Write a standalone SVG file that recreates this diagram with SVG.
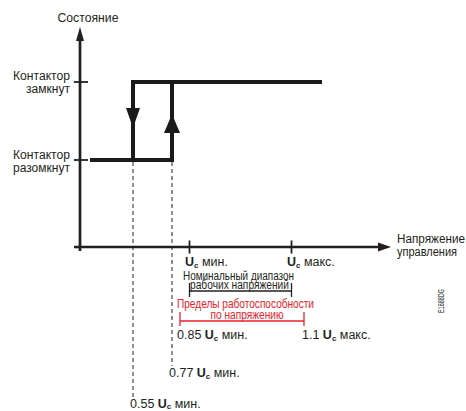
<svg xmlns="http://www.w3.org/2000/svg" width="466" height="411" viewBox="0 0 466 411">
<style>
text{font-family:"Liberation Sans",Arial,sans-serif;fill:#231f20}
.lab{font-size:12px}
.val{font-size:12.5px}
.b{font-weight:bold}
.red{fill:#e8202a}
.ax{stroke:#231f20;stroke-width:2.7;fill:none}
.tick{stroke:#231f20;stroke-width:1.8}
.step{stroke:#1a1a1a;stroke-width:4;fill:none;stroke-linejoin:miter}
.dash{stroke:#231f20;stroke-width:1;stroke-dasharray:4 3;fill:none}
.brk{stroke:#231f20;stroke-width:1.3;fill:none}
.rbrk{stroke:#e8202a;stroke-width:1.3;fill:none}
</style>
<rect width="466" height="411" fill="#fff"/>
<g id="axes">
<line class="ax" x1="80" y1="251" x2="80" y2="38"/>
<polygon points="80,27 76,41 84,41" fill="#231f20"/>
<line class="ax" x1="74" y1="247" x2="381" y2="247"/>
<polygon points="391,247 378,242.5 378,251.5" fill="#231f20"/>
<line class="tick" x1="74" y1="82" x2="88" y2="82"/>
<line class="tick" x1="74" y1="160" x2="88" y2="160"/>
<line class="tick" x1="189.5" y1="240.5" x2="189.5" y2="253.5"/>
<line class="tick" x1="291.5" y1="240.5" x2="291.5" y2="253.5"/>
</g>
<g id="connectors">
<line class="dash" x1="133" y1="162" x2="133" y2="397"/>
<line class="dash" x1="172" y1="162" x2="172" y2="366"/>
<polyline class="step" points="90,160 172,160 172,82"/>
<polyline class="step" points="133,160 133,82 322,82"/>
<polygon points="126,108 140,108 133,128" fill="#1a1a1a"/>
<polygon points="164,133 180,133 172,114" fill="#1a1a1a"/>
</g>
<g id="labels-y">
<text class="lab" x="88" y="22" text-anchor="middle" textLength="61" lengthAdjust="spacingAndGlyphs">Состояние</text>
<text class="lab" x="70" y="80" text-anchor="end" textLength="57" lengthAdjust="spacingAndGlyphs">Контактор</text>
<text class="lab" x="70" y="93" text-anchor="end" textLength="44" lengthAdjust="spacingAndGlyphs">замкнут</text>
<text class="lab" x="70" y="159" text-anchor="end" textLength="57" lengthAdjust="spacingAndGlyphs">Контактор</text>
<text class="lab" x="70" y="172" text-anchor="end" textLength="57" lengthAdjust="spacingAndGlyphs">разомкнут</text>
</g>
<g id="labels-x">
<text class="lab" x="397" y="243" textLength="68" lengthAdjust="spacingAndGlyphs">Напряжение</text>
<text class="lab" x="397" y="256" textLength="60" lengthAdjust="spacingAndGlyphs">управления</text>
<text class="val" x="185" y="266"><tspan class="b">U</tspan><tspan class="b" font-size="8" dy="2">c</tspan><tspan dy="-2"> мин.</tspan></text>
<text class="val" x="287" y="266"><tspan class="b">U</tspan><tspan class="b" font-size="8" dy="2">c</tspan><tspan dy="-2"> макс.</tspan></text>
</g>
<g id="nominal-range">
<text class="lab" x="238.5" y="279.5" text-anchor="middle" textLength="111" lengthAdjust="spacingAndGlyphs" fill="#333">Номинальный диапазон</text>
<text class="lab" x="239.5" y="289" text-anchor="middle" textLength="99" lengthAdjust="spacingAndGlyphs">рабочих напряжений</text>
<polyline class="brk" points="189.5,283 189.5,297"/>
<polyline class="brk" points="291.5,283 291.5,297"/>
<line class="brk" x1="189.5" y1="291" x2="291.5" y2="291"/>
</g>
<g id="operating-limits">
<text class="lab red" x="245.5" y="308" text-anchor="middle" textLength="137" lengthAdjust="spacingAndGlyphs">Пределы работоспособности</text>
<text class="lab red" x="247" y="319" text-anchor="middle" textLength="73" lengthAdjust="spacingAndGlyphs">по напряжению</text>
<line class="rbrk" x1="180" y1="312" x2="180" y2="326"/>
<line class="rbrk" x1="304" y1="312" x2="304" y2="326"/>
<line class="rbrk" x1="180" y1="321" x2="304" y2="321"/>
</g>
<g id="values">
<text class="val" x="177" y="339">0.85 <tspan class="b">U</tspan><tspan class="b" font-size="8" dy="2">c</tspan><tspan dy="-2"> мин.</tspan></text>
<text class="val" x="302" y="339">1.1 <tspan class="b">U</tspan><tspan class="b" font-size="8" dy="2">c</tspan><tspan dy="-2"> макс.</tspan></text>
<text class="val" x="169" y="377">0.77 <tspan class="b">U</tspan><tspan class="b" font-size="8" dy="2">c</tspan><tspan dy="-2"> мин.</tspan></text>
<text class="val" x="130" y="407.5">0.55 <tspan class="b">U</tspan><tspan class="b" font-size="8" dy="1.5">c</tspan><tspan dy="-1.5"> мин.</tspan></text>
</g>
<text x="444" y="313" font-size="9" fill="#555" transform="rotate(-90 444 313)" textLength="24" lengthAdjust="spacingAndGlyphs">E1688DG</text>
</svg>
